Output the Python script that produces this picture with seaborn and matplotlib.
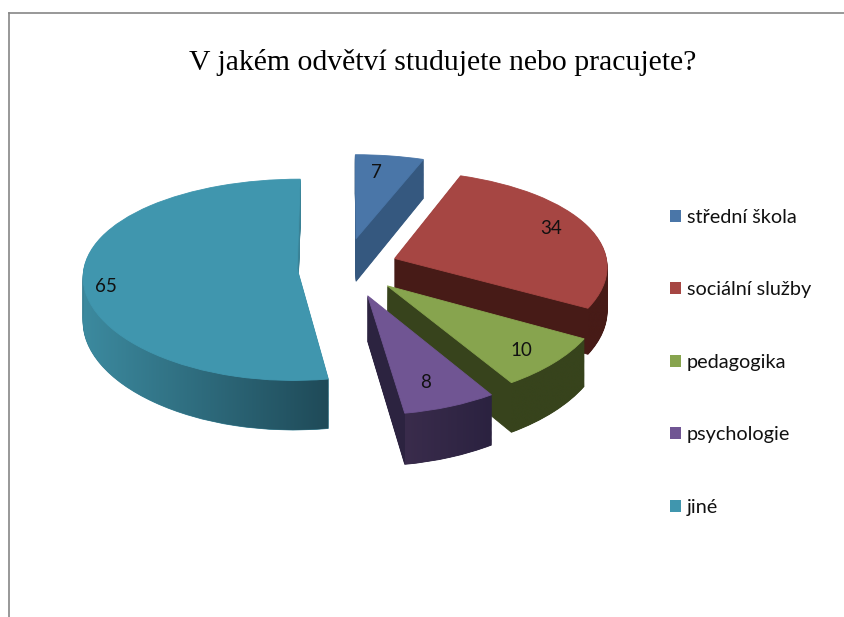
import numpy as np
import matplotlib
matplotlib.use("Agg")
import matplotlib.pyplot as plt
from matplotlib.colors import LinearSegmentedColormap
from matplotlib.patches import Patch, PathPatch
from matplotlib.path import Path
from matplotlib.transforms import Transform
import seaborn as sns

# --- data
categories = ["střední škola", "sociální služby", "pedagogika", "psychologie", "jiné"]
values = [7, 34, 10, 8, 65]
title = "V jakém odvětví studujete nebo pracujete?"

# --- style
top_colors = ["#4a76a8", "#a64643", "#87a44e", "#705593", "#4096ae"]
cut_colors = ["#35587f", "#471b17", "#37431c", "#2c2340", "#3a8296"]
rim_left = ["#35587f", "#471b17", "#37431c", "#3a2c4c", "#3c8a9f"]
rim_right = ["#35587f", "#471b17", "#37431c", "#2b2240", "#1f4a58"]
explode = [0.30, 0.25, 0.27, 0.30, 0.225]
label_px = [(376, 173), (551, 229), (521, 351), (426, 382), (106, 286)]

W, H = 845, 617
LEFT, TOP = 9, 13
RADIUS = 213
CX, CY = 345, 267
TILT = 0.465      # vertical squash of the pie plane
PERSP_Y = 0.11    # how much nearer slices grow vertically
PERSP_X = 0.07    # how much nearer slices grow horizontally
DEPTH = 44


class Tilted(Transform):
    """Oblique view of the flat pie, lowered by z screen pixels."""
    input_dims = output_dims = 2

    def __init__(self, z=0.0):
        super().__init__()
        self.z = z

    def transform_non_affine(self, values):
        pts = np.asarray(values, dtype=float)
        sx = 1.0 / (1.0 + PERSP_X * pts[:, 1] / RADIUS)
        sy = 1.0 / (1.0 + PERSP_Y * pts[:, 1] / RADIUS)
        return np.c_[CX + pts[:, 0] * sx, (H - CY) + (pts[:, 1] * TILT - self.z) * sy]


sns.set_theme(style="white")
plt.rcParams["font.family"] = ["Lato", "DejaVu Sans"]
fig = plt.figure(figsize=(W / 100, H / 100), dpi=100, facecolor="white")
ax = fig.add_axes([LEFT / W, 0, (W - LEFT) / W, (H - TOP) / H])


def layer(z, colors, bump):
    wedges, _ = ax.pie(values, explode=[e * RADIUS for e in explode],
                       colors=sns.color_palette(colors),
                       startangle=90, counterclock=False, radius=RADIUS,
                       center=(0, 0), frame=True,
                       wedgeprops=dict(linewidth=0.6, edgecolor="none"))
    view = Tilted(z) + ax.transData
    for i, w in enumerate(wedges):
        w.set_transform(view)
        w.set_zorder(10 * (i + 1) + bump)
        w.set_edgecolor(w.get_facecolor())
    return wedges


for depth in range(DEPTH, 0, -1):
    layer(depth, cut_colors, 1)
tops = layer(0, top_colors, 5)

# curved outer rim with its left-to-right shading
for i, w in enumerate(tops):
    for turn in (0, 360):
        a1, a2 = max(w.theta1 + turn, 180), min(w.theta2 + turn, 360)
        if a2 <= a1:
            continue
        th = np.radians(np.linspace(a1, a2, 160))
        arc = np.c_[w.center[0] + w.r * np.cos(th), w.center[1] + w.r * np.sin(th)]
        upper = Tilted(0).transform(arc)
        lower = Tilted(DEPTH).transform(arc)
        pts = np.r_[upper, lower[::-1], upper[:1]]
        clip = PathPatch(Path(pts), transform=ax.transData, facecolor="none", edgecolor="none")
        ax.add_patch(clip)
        cmap = LinearSegmentedColormap.from_list("rim", [rim_left[i], rim_right[i]])
        im = ax.imshow(np.linspace(0, 1, 256)[None, :], cmap=cmap, aspect="auto",
                       extent=(pts[:, 0].min(), pts[:, 0].max(), pts[:, 1].min(), pts[:, 1].max()),
                       zorder=10 * (i + 1) + 2, interpolation="bilinear")
        im.set_clip_path(clip)

ax.set_aspect("auto")
ax.set_xlim(LEFT, W)
ax.set_ylim(0, H - TOP)
ax.set_xticks([])
ax.set_yticks([])
sns.despine(ax=ax, top=False, left=False, right=True, bottom=True)
for s in ("left", "top"):
    ax.spines[s].set_color("#868686")
    ax.spines[s].set_linewidth(1.2)

for v, (px, py) in zip(values, label_px):
    ax.text(px, H - py, str(v), ha="center", va="center", fontsize=13.5,
            color="#111111", zorder=100)

fig.text(443 / W, 1 - 63 / H, title, ha="center", va="center",
         family=["Liberation Serif"], fontsize=21.4, color="black")

handles = [Patch(facecolor=c, edgecolor="none") for c in top_colors]
ax.legend(handles, categories, loc="upper left", frameon=False,
          bbox_to_anchor=(670 / W, 1 - 209 / H), bbox_transform=fig.transFigure,
          fontsize=14.35, labelcolor="#111111", labelspacing=2.78,
          handlelength=0.56, handleheight=0.56, handletextpad=0.27,
          borderpad=0, borderaxespad=0)

fig.savefig("out.png", dpi=100, facecolor="white")
